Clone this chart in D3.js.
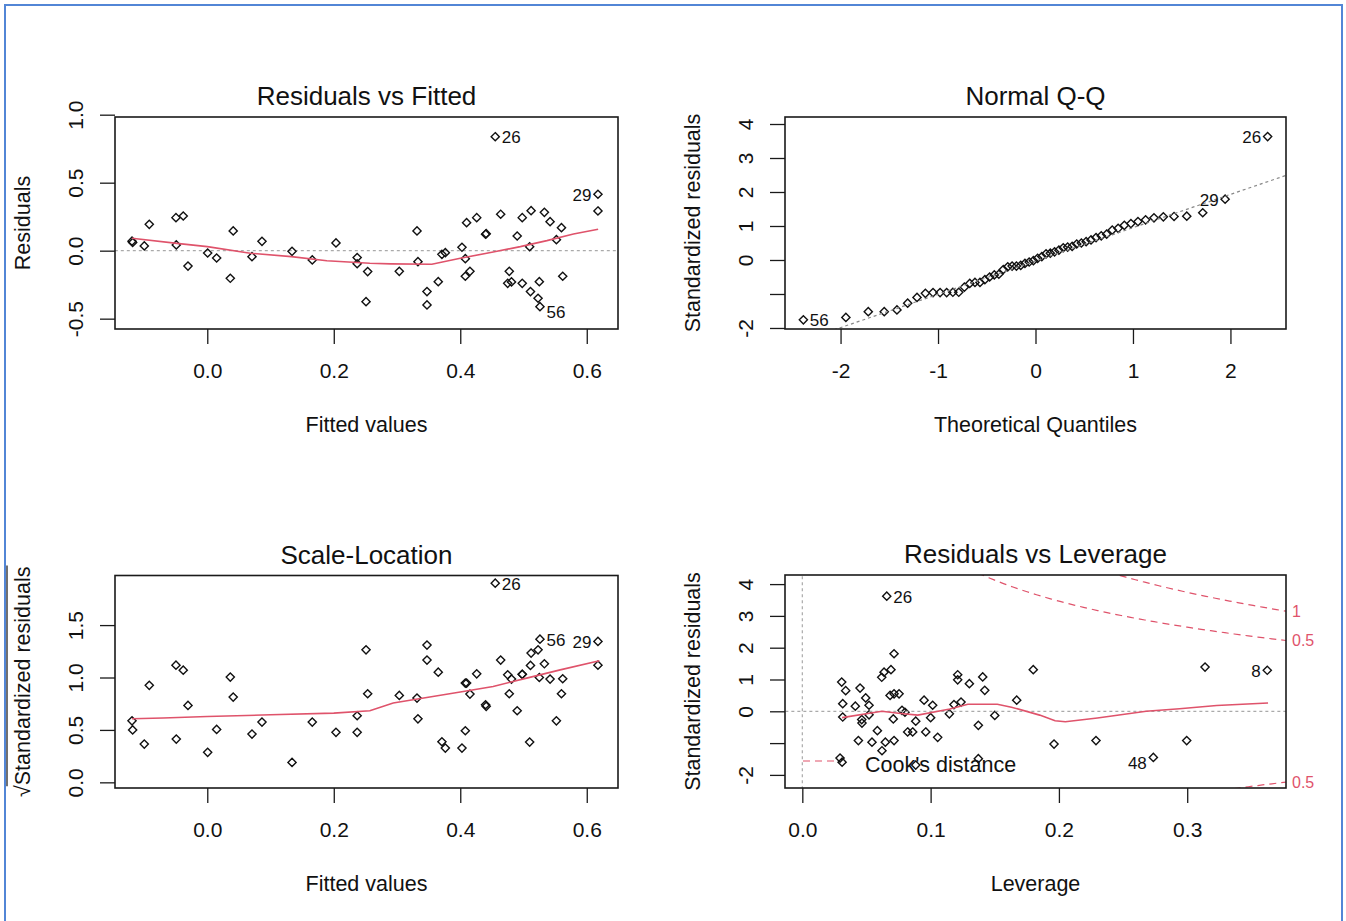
<!DOCTYPE html>
<html>
<head>
<meta charset="utf-8">
<script src="https://cdn.jsdelivr.net/npm/d3@7"></script>
<style>
  body { margin: 0; background: #fff; }
  text { font-family: "Liberation Sans", Arial, sans-serif; fill: #111; }
</style>
</head>
<body>
<div id="chart"></div>
<script>
// ---- data ----
// Residuals vs Fitted (and x of Scale-Location), one entry per observation
var fitted = [-0.119,-0.118,-0.0996,-0.0917,-0.0495,-0.049,-0.038,-0.0305,0.0006,0.0148,
  0.0364,0.041,0.0707,0.0865,0.134,0.166,0.2035,0.237,0.237,0.251,
  0.2536,0.3036,0.3316,0.3331,0.3474,0.3474,0.3652,0.371,0.3764,0.4027,
  0.408,0.408,0.410,0.4153,0.426,0.440,0.441,0.4553,0.4639,0.475,
  0.4775,0.481,0.490,0.498,0.498,0.5097,0.511,0.512,0.523,0.525,
  0.526,0.533,0.542,0.552,0.560,0.562,0.6177,0.6177]
var residuals = [0.07,0.06,0.035,0.194,0.243,0.042,0.255,-0.113,-0.017,-0.054,
  -0.203,0.145,-0.044,0.069,-0.005,-0.068,0.057,-0.051,-0.096,-0.375,
  -0.154,-0.152,0.145,-0.081,-0.301,-0.399,-0.228,-0.027,-0.015,0.025,
  -0.059,-0.188,0.206,-0.152,0.243,0.121,0.125,0.838,0.268,-0.24,
  -0.152,-0.23,0.108,0.243,-0.24,0.029,-0.301,0.294,-0.35,-0.228,
  -0.412,0.282,0.213,0.081,0.169,-0.188,0.415,0.292]
var sqrtStdResid = [0.587,0.50,0.365,0.925,1.118,0.413,1.07,0.734,0.286,0.505,
  1.004,0.813,0.46,0.575,0.19,0.575,0.477,0.477,0.635,1.264,
  0.845,0.829,0.804,0.606,1.166,1.309,1.051,0.387,0.327,0.327,
  0.492,0.947,0.947,0.842,1.035,0.74,0.725,1.90,1.166,1.026,
  0.845,0.985,0.683,1.03,1.03,0.384,1.115,1.233,1.264,1.0,
  1.366,1.131,0.985,0.587,0.845,0.988,1.344,1.118]

// lowess smoothers
var rvfSmoothX = [-0.119,-0.048,0.0,0.068,0.133,0.189,0.257,0.29,0.355,0.40,0.452,0.495,0.537,0.579,0.618]
var rvfSmoothY = [0.091,0.054,0.03,-0.019,-0.044,-0.074,-0.093,-0.097,-0.10,-0.056,-0.010,0.030,0.074,0.123,0.157]
var slSmoothX = [-0.119,-0.07,0.0,0.1,0.2,0.257,0.294,0.347,0.40,0.452,0.505,0.558,0.62]
var slSmoothY = [0.606,0.613,0.628,0.644,0.66,0.683,0.756,0.81,0.861,0.915,0.994,1.073,1.159]

// Normal Q-Q: sorted standardized residuals
var qqSorted = [-1.76,-1.69,-1.52,-1.52,-1.47,-1.27,-1.10,-0.98,-0.96,-0.96,
  -0.96,-0.95,-0.95,-0.80,-0.69,-0.66,-0.66,-0.58,-0.50,-0.44,
  -0.42,-0.28,-0.20,-0.18,-0.18,-0.16,-0.10,-0.06,-0.02,0.05,
  0.10,0.18,0.20,0.24,0.29,0.36,0.38,0.40,0.47,0.50,
  0.54,0.59,0.66,0.71,0.76,0.88,0.93,1.02,1.07,1.13,
  1.18,1.24,1.27,1.28,1.29,1.39,1.79,3.63]
var qqLineIntercept = -0.03
var qqLineSlope = 0.98

// Residuals vs Leverage
var leverage = [0.0658,0.0307,0.0338,0.0315,0.0413,0.0315,0.045,0.0494,0.052,0.0463,
  0.0465,0.052,0.0437,0.0543,0.0585,0.0621,0.0647,0.0715,0.0709,0.0619,
  0.0637,0.0691,0.0715,0.0684,0.0715,0.0754,0.0777,0.080,0.0884,0.0821,
  0.086,0.0949,0.1016,0.1,0.0962,0.1055,0.1146,0.1182,0.1237,0.1211,
  0.1211,0.1302,0.1406,0.1422,0.1372,0.150,0.1671,0.180,0.0294,0.031,
  0.1372,0.0884,0.3139,0.3624,0.1962,0.2289,0.2736,0.2996]
var levStdResid = [3.62,0.92,0.65,0.24,0.16,-0.18,0.73,0.42,0.19,-0.26,
  -0.37,-0.11,-0.92,-0.97,-0.61,-1.24,-0.97,-0.92,-0.24,1.07,
  1.23,1.31,1.81,0.50,0.55,0.55,0.03,-0.03,-0.31,-0.65,
  -0.65,0.35,0.19,-0.2,-0.65,-0.82,-0.08,0.21,0.29,1.15,
  0.99,0.87,1.08,0.66,-0.44,-0.13,0.35,1.31,-1.47,-1.60,
  -1.49,-1.69,1.39,1.29,-1.03,-0.92,-1.45,-0.92]
var rvlSmoothX = [0.031,0.062,0.075,0.09,0.115,0.129,0.152,0.163,0.185,0.197,0.205,0.23,0.268,0.294,0.323,0.363]
var rvlSmoothY = [-0.2,0.0,-0.06,-0.12,0.07,0.22,0.22,0.13,-0.12,-0.3,-0.33,-0.21,0.0,0.08,0.18,0.26]
var cookLevels = [0.5, 1]
var nParams = 6

// point ids shown
var rvfLabels = [{ i: 37, text: '26', side: 'right' }, { i: 56, text: '29', side: 'left' }, { i: 50, text: '56', side: 'right' }]
var qqLabels = [{ i: 0, text: '56', side: 'right' }, { i: 56, text: '29', side: 'left' }, { i: 57, text: '26', side: 'left' }]
var slLabels = [{ i: 37, text: '26', side: 'right' }, { i: 50, text: '56', side: 'right' }, { i: 56, text: '29', side: 'left' }]
var rvlLabels = [{ i: 0, text: '26', side: 'right' }, { i: 53, text: '8', side: 'left' }, { i: 56, text: '48', side: 'left' }]

// tick values / labels
var fittedTicks = [0, 0.2, 0.4, 0.6], fittedTickLabels = ['0.0', '0.2', '0.4', '0.6']
var residTicks = [-0.5, 0, 0.5, 1], residTickLabels = ['-0.5', '0.0', '0.5', '1.0']
var qqXTicks = [-2, -1, 0, 1, 2], qqXTickLabels = ['-2', '-1', '0', '1', '2']
var stdTicks = [-2, -1, 0, 1, 2, 3, 4], stdTickLabels = ['-2', '', '0', '1', '2', '3', '4']
var slTicks = [0, 0.5, 1, 1.5], slTickLabels = ['0.0', '0.5', '1.0', '1.5']
var levTicks = [0, 0.1, 0.2, 0.3], levTickLabels = ['0.0', '0.1', '0.2', '0.3']

// ---- drawing ----
var RED = '#DF536B'
var svg = d3.select('#chart').append('svg').attr('width', 1346).attr('height', 921)

// blue outer frame (bottom edge falls outside the picture)
svg.append('path')
  .attr('d', 'M5,930V5H1342V930')
  .attr('fill', 'none').attr('stroke', '#5286d6').attr('stroke-width', 2)

function qnorm(p) {
  var a = [-39.69683028665376, 220.9460984245205, -275.9285104469687, 138.3577518672690, -30.66479806614716, 2.506628277459239]
  var b = [-54.47609879822406, 161.5858368580409, -155.6989798598866, 66.80131188771972, -13.28068155288572]
  var c = [-0.007784894002430293, -0.3223964580411365, -2.400758277161838, -2.549732539343734, 4.374664141464968, 2.938163982698783]
  var d = [0.007784695709041462, 0.3224671290700398, 2.445134137142996, 3.754408661907416]
  var q, r
  if (p < 0.02425) {
    q = Math.sqrt(-2 * Math.log(p))
    return (((((c[0]*q+c[1])*q+c[2])*q+c[3])*q+c[4])*q+c[5]) / ((((d[0]*q+d[1])*q+d[2])*q+d[3])*q+1)
  }
  if (p > 1 - 0.02425) return -qnorm(1 - p)
  q = p - 0.5; r = q * q
  return (((((a[0]*r+a[1])*r+a[2])*r+a[3])*r+a[4])*r+a[5])*q / (((((b[0]*r+b[1])*r+b[2])*r+b[3])*r+b[4])*r+1)
}

var idc = 0
function makePanel(cfg) {
  var box = cfg.box
  var g = svg.append('g')
  var x = d3.scaleLinear().domain(cfg.xDomain).range([box.x0, box.x1])
  var y = d3.scaleLinear().domain(cfg.yDomain).range([box.y1, box.y0])
  var cid = 'clip' + (idc++)
  g.append('clipPath').attr('id', cid).append('rect')
    .attr('x', box.x0).attr('y', box.y0).attr('width', box.x1 - box.x0).attr('height', box.y1 - box.y0)
  var plot = g.append('g').attr('clip-path', 'url(#' + cid + ')')

  // x axis
  var ax = g.append('g').attr('transform', 'translate(0,' + box.y1 + ')')
    .call(d3.axisBottom(x).tickValues(cfg.xTicks).tickFormat((d, i) => cfg.xTickLabels[i]).tickSize(15).tickSizeOuter(0))
  // y axis
  var ay = g.append('g').attr('transform', 'translate(' + box.x0 + ',0)')
    .call(d3.axisLeft(y).tickValues(cfg.yTicks).tickFormat((d, i) => cfg.yTickLabels[i]).tickSize(15).tickSizeOuter(0))
  ;[ax, ay].forEach(a => {
    a.attr('font-family', null).attr('font-size', null)
    a.select('.domain').remove()
    a.selectAll('line').attr('stroke', '#1a1a1a').attr('stroke-width', 1.3)
    a.selectAll('text').style('font-size', '21px').attr('fill', null)
  })
  ax.selectAll('text').attr('y', 49).attr('dy', null)
  ay.selectAll('text').attr('x', 0).attr('dy', null).attr('y', -32)
    .attr('text-anchor', 'middle').attr('transform', 'rotate(-90)')

  // frame box
  g.append('rect')
    .attr('x', box.x0).attr('y', box.y0).attr('width', box.x1 - box.x0).attr('height', box.y1 - box.y0)
    .attr('fill', 'none').attr('stroke', '#1a1a1a').attr('stroke-width', 1.6)

  var cx = (box.x0 + box.x1) / 2, cy = (box.y0 + box.y1) / 2
  g.append('text').attr('x', cx).attr('y', box.y0 - 12).attr('text-anchor', 'middle')
    .style('font-size', '26px').text(cfg.title)
  g.append('text').attr('x', cx).attr('y', box.y1 + 103).attr('text-anchor', 'middle')
    .style('font-size', '21.5px').text(cfg.xTitle)
  var yt = g.append('g').attr('transform', 'translate(' + (box.x0 - 85) + ',' + cy + ') rotate(-90)')
  var ytext = yt.append('text').attr('text-anchor', 'middle').style('font-size', '21.5px').text(cfg.yTitle)
  if (cfg.sqrtTitle) {
    // overbar of the square root sign
    var L = ytext.node().getComputedTextLength()
    var s = ytext.node().getSubStringLength(0, 1)
    yt.append('line').attr('x1', -L / 2 + s - 1).attr('x2', L / 2 + 1).attr('y1', -23).attr('y2', -23)
      .attr('stroke', '#111').attr('stroke-width', 1.2)
  }
  return { g: g, plot: plot, x: x, y: y, box: box }
}

function refLine(p, x1, y1, x2, y2, color, dash) {
  p.plot.append('line')
    .attr('x1', p.x(x1)).attr('y1', p.y(y1)).attr('x2', p.x(x2)).attr('y2', p.y(y2))
    .attr('stroke', color).attr('stroke-width', 1.2).attr('stroke-dasharray', dash)
}

function diamonds(p, xs, ys) {
  var r = 4.1
  p.plot.selectAll(null).data(xs).enter().append('path')
    .attr('d', 'M0,' + (-r) + 'L' + r + ',0L0,' + r + 'L' + (-r) + ',0Z')
    .attr('transform', (d, i) => 'translate(' + p.x(d) + ',' + p.y(ys[i]) + ')')
    .attr('fill', 'none').attr('stroke', '#111').attr('stroke-width', 1.4)
}

function smooth(p, xs, ys) {
  var line = d3.line().x(d => p.x(d[0])).y(d => p.y(d[1]))
  p.plot.append('path').attr('d', line(xs.map((d, i) => [d, ys[i]])))
    .attr('fill', 'none').attr('stroke', RED).attr('stroke-width', 1.6)
}

function idLabels(p, xs, ys, labels, shiftNeg) {
  labels.forEach(l => {
    var px = p.x(xs[l.i]), py = p.y(ys[l.i])
    var dy = (shiftNeg && ys[l.i] < 0) ? 6 : 1
    p.g.append('text')
      .attr('x', l.side === 'left' ? px - 6.5 : px + 6.5).attr('y', py + dy)
      .attr('text-anchor', l.side === 'left' ? 'end' : 'start')
      .attr('dominant-baseline', 'central')
      .style('font-size', '17px').text(l.text)
  })
}

// 1. Residuals vs Fitted
var p1 = makePanel({
  box: { x0: 115, x1: 618, y0: 117, y1: 329 },
  xDomain: [-0.1459, 0.6494], yDomain: [-0.576, 0.983],
  xTicks: fittedTicks, xTickLabels: fittedTickLabels,
  yTicks: residTicks, yTickLabels: residTickLabels,
  title: 'Residuals vs Fitted', xTitle: 'Fitted values', yTitle: 'Residuals'
})
refLine(p1, -1, 0, 1, 0, '#aaa', '3,3')
diamonds(p1, fitted, residuals)
smooth(p1, rvfSmoothX, rvfSmoothY)
idLabels(p1, fitted, residuals, rvfLabels, true)

// 2. Normal Q-Q
var n = qqSorted.length
var qqTheo = qqSorted.map((d, i) => qnorm((i + 1 - 0.5) / n))
var p2 = makePanel({
  box: { x0: 785, x1: 1286, y0: 117, y1: 329 },
  xDomain: [-2.57, 2.57], yDomain: [-2.03, 4.206],
  xTicks: qqXTicks, xTickLabels: qqXTickLabels,
  yTicks: stdTicks, yTickLabels: stdTickLabels,
  title: 'Normal Q-Q', xTitle: 'Theoretical Quantiles', yTitle: 'Standardized residuals'
})
diamonds(p2, qqTheo, qqSorted)
refLine(p2, -3, qqLineIntercept - 3 * qqLineSlope, 3, qqLineIntercept + 3 * qqLineSlope, '#888', '3,3')
idLabels(p2, qqTheo, qqSorted, qqLabels, false)

// 3. Scale-Location
var p3 = makePanel({
  box: { x0: 115, x1: 618, y0: 575.5, y1: 788 },
  xDomain: [-0.1459, 0.6494], yDomain: [-0.054, 1.973],
  xTicks: fittedTicks, xTickLabels: fittedTickLabels,
  yTicks: slTicks, yTickLabels: slTickLabels,
  title: 'Scale-Location', xTitle: 'Fitted values', yTitle: '\u221AStandardized residuals', sqrtTitle: true
})
diamonds(p3, fitted, sqrtStdResid)
smooth(p3, slSmoothX, slSmoothY)
idLabels(p3, fitted, sqrtStdResid, slLabels, false)

// 4. Residuals vs Leverage
var p4 = makePanel({
  box: { x0: 785, x1: 1286, y0: 575, y1: 788 },
  xDomain: [-0.0135, 0.377], yDomain: [-2.412, 4.286],
  xTicks: levTicks, xTickLabels: levTickLabels,
  yTicks: stdTicks, yTickLabels: stdTickLabels,
  title: 'Residuals vs Leverage', xTitle: 'Leverage', yTitle: 'Standardized residuals'
})
diamonds(p4, leverage, levStdResid)
refLine(p4, -1, 0, 1, 0, '#aaa', '3,3')
refLine(p4, 0, -10, 0, 10, '#aaa', '3,3')
smooth(p4, rvlSmoothX, rvlSmoothY)

// Cook's distance contours
var hMax = p4.x.domain()[1]
var hh = d3.range(101).map(i => 0.01 + (hMax - 0.01) * i / 100)
var cookLine = d3.line().x(d => p4.x(d[0])).y(d => p4.y(d[1]))
cookLevels.forEach(c => {
  ;[1, -1].forEach(sgn => {
    p4.plot.append('path')
      .attr('d', cookLine(hh.map(h => [h, sgn * Math.sqrt(c * nParams * (1 - h) / h)])))
      .attr('fill', 'none').attr('stroke', RED).attr('stroke-width', 1.2).attr('stroke-dasharray', '7,5')
    var v = sgn * Math.sqrt(c * nParams * (1 - hMax) / hMax)
    var yv = p4.y(v)
    if (yv >= p4.box.y0 && yv <= p4.box.y1) {
      p4.g.append('text').attr('x', p4.box.x1 + 6).attr('y', yv)
        .attr('dominant-baseline', 'central').style('font-size', '16px')
        .style('fill', RED).text(c)
    }
  })
})
idLabels(p4, leverage, levStdResid, rvlLabels, true)

// legend
var lb = p4.box
p4.g.append('line').attr('x1', lb.x0 + 18).attr('x2', lb.x0 + 54)
  .attr('y1', lb.y1 - 27).attr('y2', lb.y1 - 27)
  .attr('stroke', RED).attr('stroke-width', 1.2).attr('stroke-dasharray', '7,5')
p4.g.append('text').attr('x', lb.x0 + 80).attr('y', lb.y1 - 16)
  .style('font-size', '21.5px').text("Cook's distance")
</script>
</body>
</html>
